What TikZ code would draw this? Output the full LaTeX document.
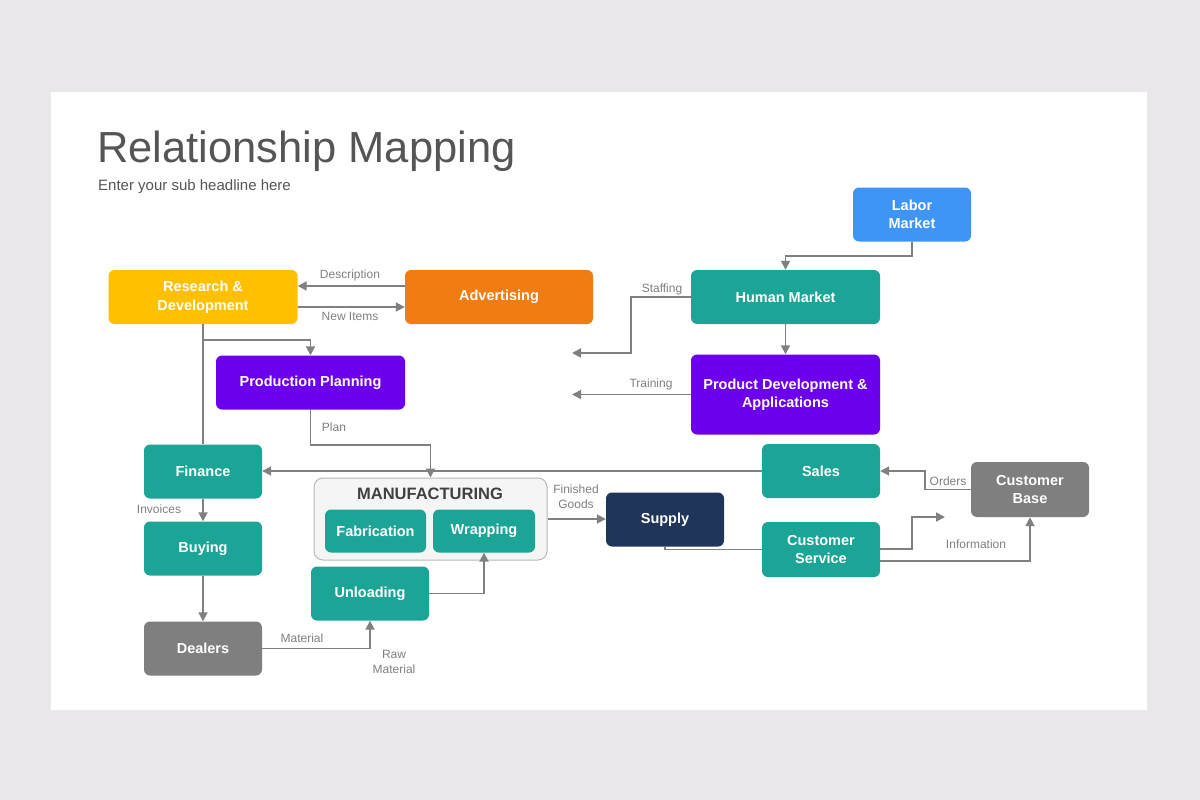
\documentclass[tikz,border=0pt]{standalone}
\usepackage{fontspec}
\setmainfont{Liberation Sans}
\usetikzlibrary{arrows.meta}
\definecolor{bgc}{HTML}{E9E7E9}
\definecolor{teal1}{HTML}{1CA597}
\definecolor{purp}{HTML}{6C00EE}
\definecolor{amber}{HTML}{FFC000}
\definecolor{orng}{HTML}{F27C12}
\definecolor{blu}{HTML}{3F95F5}
\definecolor{navy}{HTML}{20355A}
\definecolor{gbox}{HTML}{7F7F7F}
\definecolor{lgray}{HTML}{808080}
\definecolor{ttl}{HTML}{555555}
\begin{document}
\begin{tikzpicture}[x=1pt,y=-1pt,
  box/.style={rounded corners=6pt, text=white, align=center, inner sep=0pt,
    font=\fontsize{14.5}{18.5}\selectfont\bfseries},
  conn/.style={draw=lgray, line width=1.8pt},
  arr/.style={conn, -{Triangle[length=9pt,width=9pt]}},
  lbl/.style={text=lgray, font=\fontsize{12}{14}\selectfont, align=center, inner sep=0pt}]
\useasboundingbox (0,0) rectangle (1200,800);
\fill[bgc] (0,0) rectangle (1200,800);
\fill[black!8] (50,91) rectangle (1148,711);
\fill[white] (51,92) rectangle (1147,710);
\node[anchor=base west, text=ttl, inner sep=0pt, font=\fontsize{43.5}{50}\selectfont] (title) at (97,162) {Relationship Mapping};
\node[anchor=base west, text=ttl, inner sep=0pt, font=\fontsize{15}{17}\selectfont] (sub) at (98,190) {Enter your sub headline here};
% nodes
\node[box, fill=amber, minimum width=189pt, minimum height=54pt] (rd) at (203,297) {Research \&\\Development};
\node[box, fill=orng, minimum width=188pt, minimum height=54pt] (adv) at (499,297) {Advertising};
\node[box, fill=purp, minimum width=189pt, minimum height=54pt] (pp) at (310.5,382.5) {Production Planning};
\node[box, fill=blu, minimum width=118pt, minimum height=54pt] (lab) at (912,214.5) {Labor\\Market};
\node[box, fill=teal1, minimum width=189pt, minimum height=54pt] (hm) at (785.5,297) {Human Market};
\node[box, fill=purp, minimum width=189pt, minimum height=80pt] (pd) at (785.5,394.5) {Product Development \&\\Applications};
\node[box, fill=teal1, minimum width=118pt, minimum height=54pt] (fin) at (203,471.5) {Finance};
\node[box, fill=teal1, minimum width=118pt, minimum height=54pt] (buy) at (203,548.5) {Buying};
\node[box, fill=gbox, minimum width=118pt, minimum height=54pt] (dl) at (203,648.5) {Dealers};
\node[rounded corners=9pt, draw=black!28, line width=1pt, fill=black!4, minimum width=233pt, minimum height=82pt, inner sep=0pt] (mfg) at (430.5,519) {};
\node[text=black!75, font=\fontsize{16.5}{18}\selectfont\bfseries, inner sep=0pt] (mfgt) at (430,494) {MANUFACTURING};
\node[box, fill=teal1, minimum width=101pt, minimum height=43pt] (fab) at (375.5,531) {Fabrication};
\node[box, fill=teal1, minimum width=102pt, minimum height=43pt] (wrap) at (484,531) {Wrapping};
\node[box, fill=teal1, minimum width=118pt, minimum height=54pt] (unl) at (370,593.5) {Unloading};
\node[box, fill=navy, minimum width=118pt, minimum height=54pt] (sup) at (665,519.5) {Supply};
\node[box, fill=teal1, minimum width=118pt, minimum height=54pt] (sales) at (821,471) {Sales};
\node[box, fill=teal1, minimum width=118pt, minimum height=55pt] (cs) at (821,549.5) {Customer\\Service};
\node[box, fill=gbox, minimum width=118pt, minimum height=55pt] (cb) at (1030,489.5) {Customer\\Base};
% free ends
\coordinate (csout) at (945,517);
\coordinate (st) at (572,353);
\coordinate (tr) at (572,394.5);
% connectors
\draw[arr] (adv.west |- 0,286) -- (rd.east |- 0,286);
\draw[arr] (rd.east |- 0,307) -- (adv.west |- 0,307);
\draw[arr] (rd.south) -- (rd.south |- 0,340) -| (pp.north);
\draw[conn] (rd.south) -- (fin.north);
\draw[arr] (pp.south) -- (pp.south |- 0,445) -| (mfg.north);
\draw[arr] (sales.west) -- (fin.east |- sales.west);
\draw[arr] (fin.south) -- (buy.north);
\draw[arr] (buy.south) -- (dl.north);
\draw[arr] (dl.east) -| (unl.south);
\draw[arr] (unl.east) -| (wrap.south);
\draw[arr] (mfg.east) -- (sup.west |- mfg.east);
\draw[conn] (sup.south) |- (cs.west);
\draw[arr] (cs.east |- 0,549) -- (912,549) |- (csout);
\draw[arr] (cs.east |- 0,561) -| (cb.south);
\draw[arr] (cb.west) -- (925,489.5) |- (sales.east);
\draw[arr] (lab.south) -- (lab.south |- 0,256) -| (hm.north);
\draw[arr] (hm.south) -- (pd.north);
\draw[arr] (hm.west) -- (631,297) |- (st);
\draw[arr] (pd.west) -- (tr);
% labels
\node[lbl] (l1) at (350,275) {Description};
\node[lbl] (l2) at (350,316.5) {New Items};
\node[lbl] (l3) at (334,427) {Plan};
\node[lbl] (l4) at (159,509) {Invoices};
\node[lbl] (l5) at (302,638.5) {Material};
\node[lbl, font=\fontsize{12}{15}\selectfont] (l6) at (394,661.5) {Raw\\Material};
\node[lbl, font=\fontsize{12}{15}\selectfont] (l7) at (576,497) {Finished\\Goods};
\node[lbl] (l8) at (976,544.5) {Information};
\node[lbl] (l9) at (948,481) {Orders};
\node[lbl] (l10) at (662,289) {Staffing};
\node[lbl] (l11) at (651,384) {Training};
\end{tikzpicture}
\end{document}
